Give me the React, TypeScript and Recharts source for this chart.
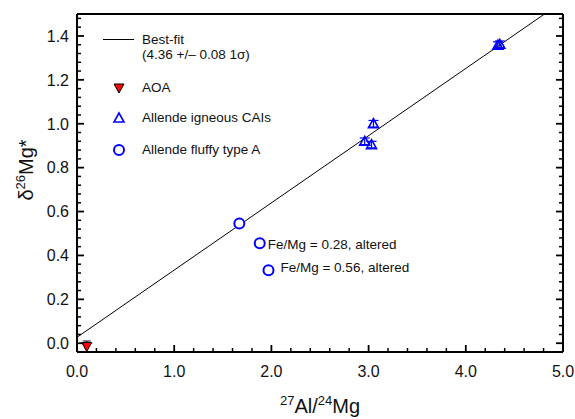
import React from 'react';
import { ScatterChart, Scatter, XAxis, YAxis, ErrorBar, Legend, Label } from 'recharts';

// AOA
const aoaX = [0.1];
const aoaY = [-0.015];
const aoaErr = [0.025];

// Allende igneous CAIs
const igneousX = [2.96, 3.05, 3.03, 4.33, 4.35];
const igneousY = [0.92, 1.0, 0.905, 1.358, 1.362];
const igneousErr = [0.015, 0.015, 0.015, 0.015, 0.015];

// Allende fluffy type A
const fluffyX = [1.67, 1.88, 1.97];
const fluffyY = [0.545, 0.455, 0.332];
const fluffyNotes = ['', 'Fe/Mg = 0.28, altered', 'Fe/Mg = 0.56, altered'];

// best-fit line end points
const fitX = [0, 4.81];
const fitY = [0.027, 1.5];

const xMajor = [0, 1, 2, 3, 4, 5];
const yMajor = [0, 0.2, 0.4, 0.6, 0.8, 1.0, 1.2, 1.4];
const xDomain: [number, number] = [0, 5];
const yDomain: [number, number] = [-0.04, 1.5];

const steps = (from: number, to: number, step: number) => {
  const out: number[] = [];
  for (let i = Math.round(from / step); i * step <= to + 1e-9; i++) out.push(Math.round(i * step * 1000) / 1000);
  return out;
};
const xTicks = steps(0, 5, 0.2);
const yTicks = steps(-0.04, 1.5, 0.04);

const aoa = aoaX.map((x, i) => ({ x, y: aoaY[i], err: aoaErr[i] }));
const igneous = igneousX.map((x, i) => ({ x, y: igneousY[i], err: igneousErr[i] }));
const fluffy = fluffyX.map((x, i) => ({ x, y: fluffyY[i], note: fluffyNotes[i] }));
const fit = fitX.map((x, i) => ({ x, y: fitY[i] }));

// where the two notes sit relative to their circle
const noteOffset = [
  { dx: 0, dy: 0 },
  { dx: 8, dy: 1 },
  { dx: 12, dy: -3 },
];

const FONT = '"Liberation Sans", Arial, sans-serif';
const BLUE = '#0000ff';
const INK = '#111';
const MINOR = 4; // tick lengths, pointing into the plot
const MAJOR = 7;

const near = (v: number, list: number[]) => list.some((m) => Math.abs(m - v) < 1e-6);

const BottomTick = (props: any) => {
  const x = Number(props.x);
  const y = Number(props.y);
  const major = near(props.payload.value, xMajor);
  return (
    <g>
      <line x1={x} x2={x} y1={y} y2={y - (major ? MAJOR : MINOR)} stroke="#000" strokeWidth={major ? 1.8 : 1.5} />
      {major && (
        <text x={x} y={y + 25} textAnchor="middle" fontSize={16} fill={INK} fontFamily={FONT}>
          {props.payload.value.toFixed(1)}
        </text>
      )}
    </g>
  );
};

const TopTick = (props: any) => {
  const x = Number(props.x);
  const y = Number(props.y);
  const major = near(props.payload.value, xMajor);
  return <line x1={x} x2={x} y1={y} y2={y + (major ? MAJOR : MINOR)} stroke="#000" strokeWidth={major ? 1.8 : 1.5} />;
};

const LeftTick = (props: any) => {
  const x = Number(props.x);
  const y = Number(props.y);
  const major = near(props.payload.value, yMajor);
  return (
    <g>
      <line x1={x} x2={x + (major ? MAJOR : MINOR)} y1={y} y2={y} stroke="#000" strokeWidth={major ? 1.8 : 1.5} />
      {major && (
        <text x={x - 8} y={y} dy="0.36em" textAnchor="end" fontSize={16} fill={INK} fontFamily={FONT}>
          {props.payload.value.toFixed(1)}
        </text>
      )}
    </g>
  );
};

const RightTick = (props: any) => {
  const x = Number(props.x);
  const y = Number(props.y);
  const major = near(props.payload.value, yMajor);
  return <line x1={x} x2={x - (major ? MAJOR : MINOR)} y1={y} y2={y} stroke="#000" strokeWidth={major ? 1.8 : 1.5} />;
};

const XTitle = ({ viewBox }: any) => (
  <text x={viewBox.x + viewBox.width / 2} y={viewBox.y + 61} textAnchor="middle" fontSize={20} fill={INK} fontFamily={FONT}>
    <tspan fontSize={13} dy={-8}>27</tspan>
    <tspan dy={8}>Al/</tspan>
    <tspan fontSize={13} dy={-8}>24</tspan>
    <tspan dy={8}>Mg</tspan>
  </text>
);

const YTitle = () => (
  <text x={0} y={0} transform="translate(33,170) rotate(-90)" textAnchor="middle" fontSize={20} fill={INK} fontFamily={FONT}>
    <tspan>δ</tspan>
    <tspan fontSize={13} dy={-8}>26</tspan>
    <tspan dy={8}>Mg*</tspan>
  </text>
);

const Tri = ({ cx, cy }: { cx: number; cy: number }) => (
  <polygon points={`${cx},${cy - 5} ${cx - 5},${cy + 4} ${cx + 5},${cy + 4}`} fill="none" stroke={BLUE} strokeWidth={1.6} />
);

const DownTri = ({ cx, cy }: { cx: number; cy: number }) => (
  <polygon points={`${cx - 5},${cy - 4} ${cx + 5},${cy - 4} ${cx},${cy + 5}`} fill="#ff0000" stroke="#000" strokeWidth={1} />
);

const Ring = ({ cx, cy }: { cx: number; cy: number }) => (
  <circle cx={cx} cy={cy} r={5} fill="#fff" stroke={BLUE} strokeWidth={2} />
);

const FluffyShape = (props: any) => {
  const { cx, cy, payload, index } = props;
  const off = noteOffset[index] || { dx: 8, dy: 0 };
  return (
    <g>
      <Ring cx={cx} cy={cy} />
      {payload.note && (
        <text x={cx + off.dx} y={cy + off.dy} dy="0.36em" fontSize={13.5} fill={INK} fontFamily={FONT}>
          {payload.note}
        </text>
      )}
    </g>
  );
};

const LegendBox = () => (
  <svg width={220} height={140} style={{ display: 'block' }}>
    <g fontFamily={FONT} fontSize={13.5} fill={INK}>
      <line x1={8} x2={39} y1={15.5} y2={15.5} stroke="#000" strokeWidth={1} />
      <text x={47} y={20}>Best-fit</text>
      <text x={47} y={35}>(4.36 +/– 0.08 1σ)</text>
      <DownTri cx={24} cy={64} />
      <text x={47} y={68}>AOA</text>
      <Tri cx={24} cy={94} />
      <text x={47} y={98}>Allende igneous CAIs</text>
      <Ring cx={24} cy={126} />
      <text x={47} y={130}>Allende fluffy type A</text>
    </g>
  </svg>
);

const frame = { stroke: '#000', strokeWidth: 2 };

export default function App() {
  return (
    <div style={{ position: 'absolute', left: 0, top: 0, width: 575, height: 419, background: '#fff', fontFamily: FONT }}>
      <ScatterChart width={575} height={419} margin={{ top: 13, right: 11, bottom: 0, left: 0 }}>
        <XAxis
          type="number"
          dataKey="x"
          domain={xDomain}
          allowDataOverflow
          ticks={xTicks}
          interval={0}
          height={67}
          tickSize={0}
          tickMargin={0}
          tickLine={false}
          axisLine={frame}
          tick={BottomTick}
        >
          <Label content={XTitle} />
        </XAxis>
        <XAxis
          xAxisId="top"
          orientation="top"
          type="number"
          domain={xDomain}
          allowDataOverflow
          ticks={xTicks}
          interval={0}
          height={1}
          tickSize={0}
          tickMargin={0}
          tickLine={false}
          axisLine={frame}
          tick={TopTick}
        />
        <YAxis
          type="number"
          dataKey="y"
          domain={yDomain}
          allowDataOverflow
          ticks={yTicks}
          interval={0}
          width={77}
          tickSize={0}
          tickMargin={0}
          tickLine={false}
          axisLine={frame}
          tick={LeftTick}
        >
          <Label content={YTitle} />
        </YAxis>
        <YAxis
          yAxisId="right"
          orientation="right"
          type="number"
          domain={yDomain}
          allowDataOverflow
          ticks={yTicks}
          interval={0}
          width={1}
          tickSize={0}
          tickMargin={0}
          tickLine={false}
          axisLine={frame}
          tick={RightTick}
        />
        <Legend
          layout="vertical"
          align="center"
          verticalAlign="middle"
          wrapperStyle={{ left: 95, top: 24, width: 220, height: 140 }}
          content={() => <LegendBox />}
        />
        <Scatter name="Best-fit" data={fit} line={{ stroke: '#000', strokeWidth: 1 }} shape={() => <g />} isAnimationActive={false} legendType="none" />
        <Scatter name="AOA" data={aoa} shape={DownTri as any} isAnimationActive={false}>
          <ErrorBar dataKey="err" direction="y" width={4} stroke="#000" strokeWidth={1} />
        </Scatter>
        <Scatter name="Allende igneous CAIs" data={igneous} shape={Tri as any} isAnimationActive={false}>
          <ErrorBar dataKey="err" direction="y" width={5} stroke={BLUE} strokeWidth={1.2} />
        </Scatter>
        <Scatter name="Allende fluffy type A" data={fluffy} shape={FluffyShape} isAnimationActive={false} />
      </ScatterChart>
    </div>
  );
}
